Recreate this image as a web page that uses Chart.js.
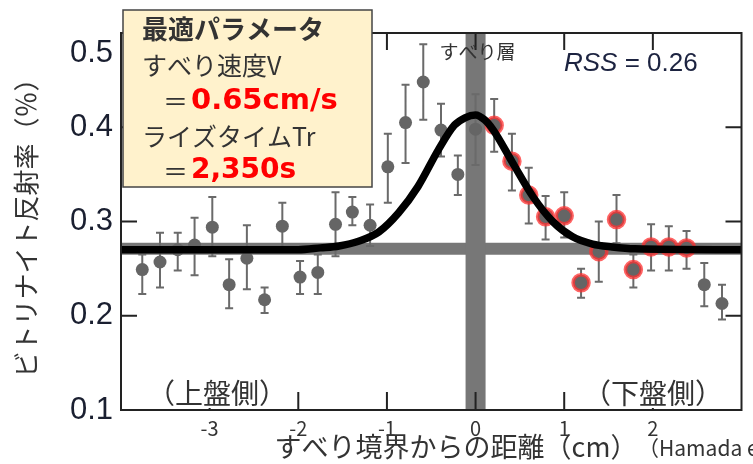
<!DOCTYPE html>
<html>
<head>
<meta charset="utf-8">
<script src="https://cdn.jsdelivr.net/npm/chart.js@4.4.0/dist/chart.umd.min.js"></script>
<style>
  html, body { margin: 0; padding: 0; background: #fff; }
</style>
</head>
<body>
<canvas id="chart" width="753" height="464"></canvas>
<script>
// distance from the slip boundary (cm) and vitrinite reflectance (%) with error bar ends
const distance = [-3.76, -3.56, -3.36, -3.17, -2.97, -2.78, -2.58, -2.38, -2.18, -1.98, -1.78, -1.58,
                  -1.39, -1.19, -0.99, -0.79, -0.59, -0.39, -0.20, 0.00, 0.21, 0.41, 0.60, 0.79,
                  1.00, 1.19, 1.39, 1.59, 1.78, 1.98, 2.18, 2.38, 2.58, 2.78];
const reflectance = [0.249, 0.257, 0.270, 0.275, 0.294, 0.233, 0.261, 0.217, 0.295, 0.241, 0.246, 0.297,
                     0.310, 0.296, 0.358, 0.405, 0.448, 0.397, 0.350, 0.398, 0.402, 0.364, 0.328, 0.305,
                     0.306, 0.235, 0.268, 0.302, 0.249, 0.273, 0.273, 0.272, 0.233, 0.213];
const errLow = [0.223, 0.230, 0.248, 0.243, 0.263, 0.208, 0.228, 0.203, 0.270, 0.223, 0.223, 0.263,
                0.296, 0.274, 0.320, 0.362, 0.408, 0.369, 0.328, 0.360, 0.374, 0.333, 0.298, 0.281,
                0.283, 0.219, 0.236, 0.277, 0.230, 0.248, 0.248, 0.250, 0.210, 0.196];
const errHigh = [0.265, 0.288, 0.288, 0.304, 0.326, 0.260, 0.296, 0.230, 0.320, 0.258, 0.265, 0.331,
                 0.326, 0.318, 0.393, 0.445, 0.488, 0.425, 0.370, 0.435, 0.430, 0.393, 0.357, 0.327,
                 0.331, 0.250, 0.300, 0.328, 0.265, 0.297, 0.295, 0.290, 0.256, 0.233];
// 1 = footwall sample used for the fit (red halo)
const fitted = [0, 0, 0, 0, 0, 0, 0, 0, 0, 0, 0, 0,
                0, 0, 0, 0, 0, 0, 0, 0, 1, 1, 1, 1,
                1, 1, 1, 1, 1, 1, 1, 1, 0, 0];

// best fit curve
const fitDistance = [-4.0, -2.0, -1.75, -1.54, -1.32, -1.09, -0.87, -0.65, -0.42, -0.24, -0.12, 0.0,
                     0.1, 0.2, 0.42, 0.65, 0.87, 1.09, 1.32, 1.54, 1.8, 3.0];
const fitReflectance = [0.270, 0.270, 0.272, 0.274, 0.279, 0.289, 0.309, 0.337, 0.376, 0.402, 0.410, 0.413,
                        0.408, 0.397, 0.362, 0.326, 0.300, 0.284, 0.276, 0.273, 0.271, 0.270];

const slipLayerAt = 0;
const backgroundLevel = 0.271;

const xTicks = [-3, -2, -1, 0, 1, 2];
const yTicks = [0.1, 0.2, 0.3, 0.4, 0.5];

const jp = '"Noto Sans CJK JP", sans-serif';
const TEXT = '#333';

function text(ctx, str, x, y, font, color, align) {
    ctx.font = font;
    ctx.fillStyle = color;
    ctx.textAlign = align || 'left';
    ctx.textBaseline = 'middle';
    ctx.fillText(str, x, y);
}

const decorations = {
    id: 'decorations',
    // error bars go under the markers and the fit curve
    beforeDatasetDraw(chart, args) {
        if (args.index !== 1) return;
        const {ctx, scales: {x, y}} = chart;
        ctx.save();
        ctx.strokeStyle = '#6a6a6a';
        ctx.lineWidth = 2;
        ctx.beginPath();
        distance.forEach((d, i) => {
            const px = x.getPixelForValue(d);
            const top = y.getPixelForValue(errHigh[i]);
            const bot = y.getPixelForValue(errLow[i]);
            ctx.moveTo(px, top); ctx.lineTo(px, bot);
            ctx.moveTo(px - 4, top); ctx.lineTo(px + 4, top);
            ctx.moveTo(px - 4, bot); ctx.lineTo(px + 4, bot);
        });
        ctx.stroke();
        ctx.restore();
    },
    afterDatasetsDraw(chart) {
        const {ctx, chartArea: a, scales: {x, y}} = chart;
        ctx.save();
        // box frame with inward ticks
        ctx.strokeStyle = '#222';
        ctx.lineWidth = 2;
        ctx.strokeRect(a.left, a.top, a.right - a.left, a.bottom - a.top);
        ctx.beginPath();
        xTicks.forEach(v => {
            const px = x.getPixelForValue(v);
            ctx.moveTo(px, a.top); ctx.lineTo(px, a.top + 17);
            ctx.moveTo(px, a.bottom); ctx.lineTo(px, a.bottom - 18);
        });
        yTicks.forEach(v => {
            const py = y.getPixelForValue(v);
            ctx.moveTo(a.left, py); ctx.lineTo(a.left + 16, py);
            ctx.moveTo(a.right, py); ctx.lineTo(a.right - 16, py);
        });
        ctx.stroke();

        // side labels sit on a white patch, hiding the ticks behind them
        ctx.fillStyle = '#fff';
        ctx.fillRect(a.left + 30, a.bottom - 32, 132, 30);
        ctx.fillRect(a.left + 466, a.bottom - 32, 132, 30);
        text(ctx, '（上盤側）', a.left + 96, a.bottom - 17, '28px ' + jp, TEXT, 'center');
        text(ctx, '（下盤側）', a.left + 532, a.bottom - 17, '28px ' + jp, TEXT, 'center');

        text(ctx, 'すべり層', x.getPixelForValue(slipLayerAt) + 2, 52, '19px ' + jp, TEXT, 'center');

        ctx.font = 'italic 26px "Liberation Sans"';
        const rssW = ctx.measureText('RSS').width;
        text(ctx, 'RSS', 564, 64, 'italic 26px "Liberation Sans"', '#1c2340');
        text(ctx, ' = 0.26', 564 + rssW, 64, '26px "Liberation Sans"', '#1c2340');
        ctx.restore();
    },
    afterDraw(chart) {
        const {ctx} = chart;
        ctx.save();
        // parameter box
        ctx.fillStyle = '#fff2cc';
        ctx.fillRect(123, 10, 249, 177);
        ctx.strokeStyle = '#444';
        ctx.lineWidth = 1.5;
        ctx.strokeRect(123, 10, 249, 177);
        text(ctx, '最適パラメータ', 142, 29, 'bold 26px ' + jp, TEXT);
        text(ctx, 'すべり速度V', 142, 65, '25px ' + jp, TEXT);
        text(ctx, '＝', 163, 101, '25px ' + jp, TEXT);
        text(ctx, '0.65cm/s', 191, 101, 'bold 29px "DejaVu Sans"', '#ff0000');
        text(ctx, 'ライズタイムTr', 142, 136, '25px ' + jp, TEXT);
        text(ctx, '＝', 163, 171, '25px ' + jp, TEXT);
        text(ctx, '2,350s', 191, 171, 'bold 28px "DejaVu Sans"', '#ff0000');

        // x axis title and source
        text(ctx, 'すべり境界からの距離（cm）', 456, 447, '27px ' + jp, TEXT, 'center');
        text(ctx, '（Hamada et al.）', 638, 448, '21px ' + jp, TEXT);
        ctx.restore();
    }
};

new Chart(document.getElementById('chart'), {
    type: 'scatter',
    data: {
        datasets: [
            {
                label: 'fit',
                data: fitDistance.map((d, i) => ({x: d, y: fitReflectance[i]})),
                showLine: true,
                borderColor: '#000',
                borderWidth: 7.5,
                pointRadius: 0,
                cubicInterpolationMode: 'monotone',
                order: 0
            },
            {
                label: 'Ro',
                data: distance.map((d, i) => ({x: d, y: reflectance[i]})),
                backgroundColor: '#656565',
                pointRadius: fitted.map(f => f ? 8 : 6.5),
                pointBorderWidth: fitted.map(f => f ? 3.5 : 0),
                pointBorderColor: fitted.map(f => f ? 'rgba(255,50,50,0.75)' : '#666'),
                order: 1
            },
            {
                label: 'slip layer',
                data: [{x: slipLayerAt, y: 0.1}, {x: slipLayerAt, y: 0.5}],
                showLine: true,
                borderColor: '#777',
                borderWidth: 20,
                borderCapStyle: 'butt',
                pointRadius: 0,
                order: 2
            },
            {
                label: 'background',
                data: [{x: -4, y: backgroundLevel}, {x: 3, y: backgroundLevel}],
                showLine: true,
                borderColor: '#777',
                borderWidth: 12,
                borderCapStyle: 'butt',
                pointRadius: 0,
                order: 3
            }
        ]
    },
    options: {
        responsive: false,
        animation: false,
        layout: {padding: {top: 33, right: 6, left: 0, bottom: 0}},
        plugins: {
            legend: {display: false},
            tooltip: {enabled: false}
        },
        scales: {
            x: {
                type: 'linear',
                min: -4,
                max: 3,
                grid: {display: false, drawTicks: false},
                border: {display: false},
                ticks: {
                    stepSize: 1,
                    autoSkip: false,
                    maxRotation: 0,
                    padding: 6,
                    color: '#333',
                    font: {family: jp, size: 20},
                    callback: v => xTicks.includes(v) ? String(v) : ''
                },
                afterFit: s => { s.height = 54; }
            },
            y: {
                min: 0.1,
                max: 0.5,
                grid: {display: false, drawTicks: false},
                border: {display: false},
                ticks: {
                    stepSize: 0.1,
                    padding: 8,
                    color: '#1a1f30',
                    font: {family: '"Liberation Sans"', size: 31, lineHeight: 1.35},
                    // top label sits a bit lower in the original, below the frame corner
                    callback: v => {
                        const t = yTicks.find(k => Math.abs(k - v) < 1e-6);
                        if (t === undefined) return '';
                        return t === 0.5 ? ['', t.toFixed(1)] : t.toFixed(1);
                    }
                },
                title: {
                    display: true,
                    text: 'ビトリナイト反射率（％）',
                    color: TEXT,
                    font: {family: jp, size: 26},
                    padding: {top: 11, bottom: 0}
                },
                afterFit: s => { s.width = 121; s.paddingTop = 0; s.paddingBottom = 0; }
            }
        }
    },
    plugins: [decorations]
});
</script>
</body>
</html>
